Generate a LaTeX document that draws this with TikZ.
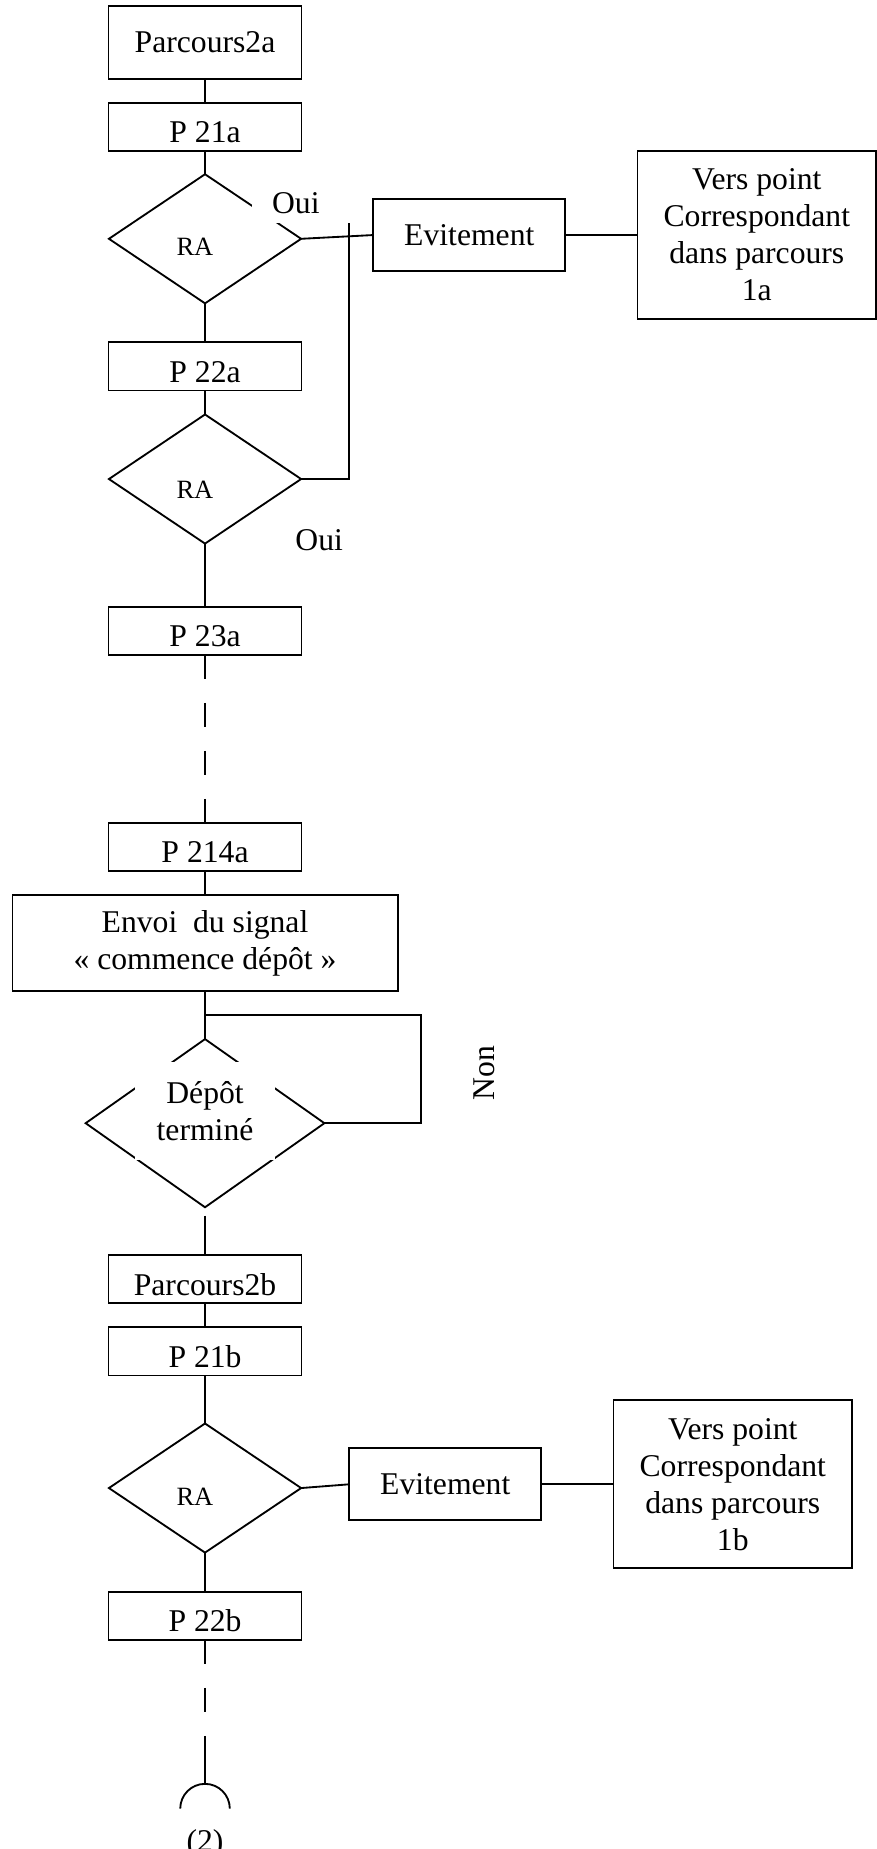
\documentclass[tikz,border=0pt]{standalone}
\usepackage{fontspec}
\setmainfont{Liberation Serif}
\usepackage{tikz}
\usetikzlibrary{positioning,shapes.geometric}

\begin{document}
\begin{tikzpicture}[
        font=\fontsize{12}{14}\selectfont,
        line width=0.7pt,
        outer sep=0pt,
        node distance=3.2mm,
        startbox/.style={rectangle, draw=black, inner sep=0pt, minimum width=25.7mm, minimum height=9.7mm},
        pbox/.style={rectangle, draw=black, inner sep=0pt, minimum width=25.7mm, minimum height=6.4mm, text height=12pt, text depth=0pt},
        flow/.style={rectangle, draw=black, align=center, inner sep=0pt},
        decision/.style={diamond, draw=black, inner sep=0pt, minimum width=25.6mm, minimum height=17.2mm},
        ratext/.style={font=\fontsize{10}{12}\selectfont, inner sep=0pt},
        sidebox/.style={rectangle, draw=black, inner sep=0pt, minimum width=25.6mm, minimum height=9.6mm},
        versbox/.style={rectangle, draw=black, align=center, inner sep=0pt, minimum width=31.8mm, minimum height=22.4mm},
        answer/.style={fill=white, inner sep=0pt, minimum width=11.7mm, minimum height=5.1mm},
        skipline/.style={dash pattern=on 3.2mm off 3.2mm},
        endline/.style={dash pattern=on 3.2mm off 3.2mm on 3.2mm off 3.2mm on 6.4mm off 3.2mm}
    ]
    \useasboundingbox (-27.31mm,5.66mm) rectangle (89.38mm,-240.63mm);

    % main column
    \node[startbox] (p2a) at (0,0) {Parcours2a};
    \node[pbox, below=of p2a] (p21a) {P 21a};
    \node[decision, below=3.1mm of p21a] (ra1) {};
    \node[ratext] (ra1t) at ([xshift=-1.35mm, yshift=-1.1mm]ra1.center) {RA};
    \node[pbox, below=5.2mm of ra1] (p22a) {P 22a};
    \node[decision, below=of p22a] (ra2) {};
    \node[ratext] (ra2t) at ([xshift=-1.35mm, yshift=-1.4mm]ra2.center) {RA};
    \node[pbox, below=8.4mm of ra2] (p23a) {P 23a};
    \node[pbox, below=22.4mm of p23a] (p214a) {P 214a};
    \node[flow, minimum width=51.3mm, minimum height=12.8mm, below=of p214a] (envoi) {Envoi\ \ du signal\\«~commence dépôt~»};
    \node[decision, minimum width=31.8mm, minimum height=22.4mm, below=6.4mm of envoi] (depot) {};
    \node[answer, minimum width=18.6mm, minimum height=13.1mm, align=center] (depott) at ([yshift=1.6mm]depot.center) {Dépôt\\terminé};
    \node[pbox, below=6.4mm of depot] (p2b) {Parcours2b};
    \node[pbox, below=of p2b] (p21b) {P 21b};
    \node[decision, below=6.4mm of p21b] (ra3) {};
    \node[ratext] (ra3t) at ([xshift=-1.35mm, yshift=-1.2mm]ra3.center) {RA};
    \node[pbox, below=5.2mm of ra3] (p22b) {P 22b};
    \coordinate[below=19.2mm of p22b] (conn);
    \node[anchor=base] (suite) at ([yshift=-9.0mm]conn) {(2)};

    % side branches
    \node[sidebox, right=9.6mm of ra1, yshift=0.5mm] (evit1) {Evitement};
    \node[versbox, right=9.6mm of evit1] (vers1) {Vers point\\Correspondant\\dans parcours\\1a};
    \node[sidebox, right=6.4mm of ra3, yshift=0.5mm] (evit2) {Evitement};
    \node[versbox, right=9.6mm of evit2] (vers2) {Vers point\\Correspondant\\dans parcours\\1b};
    \node[answer] (oui1) at ([xshift=12.1mm, yshift=4.7mm]ra1.center) {Oui};
    \node[answer] (oui2) at ([xshift=15.2mm, yshift=-8.1mm]ra2.center) {Oui};
    \node[rotate=90] (non) at ([xshift=37.2mm, yshift=6.7mm]depot.center) {Non};
    \coordinate (jtop) at ([xshift=6.4mm, yshift=2.1mm]ra1.east);
    \coordinate[below=3.2mm of envoi] (jloop);

    \draw (p2a) -- (p21a);
    \draw (p21a) -- (ra1);
    \draw (ra1) -- (p22a);
    \draw (p22a) -- (ra2);
    \draw (ra2) -- (p23a);
    \draw[skipline] (p23a) -- (p214a);
    \draw (p214a) -- (envoi);
    \draw (envoi) -- (depot);
    \draw ([yshift=-1.1mm]depot.south) -- (p2b);
    \draw (p2b) -- (p21b);
    \draw (p21b) -- (ra3);
    \draw (ra3) -- (p22b);
    \draw[endline] (p22b) -- (conn);
    \draw ([xshift=-3.3mm, yshift=-3.3mm]conn) arc[start angle=180, end angle=0, radius=3.3mm];
    \draw (ra1.east) -- (evit1.west);
    \draw (evit1) -- (vers1);
    \draw (ra2.east) -| (jtop);
    \draw (ra3.east) -- (evit2.west);
    \draw (evit2) -- (vers2);
    \draw (depot.east) -- ++(12.9mm,0) |- (jloop);
\end{tikzpicture}
\end{document}
